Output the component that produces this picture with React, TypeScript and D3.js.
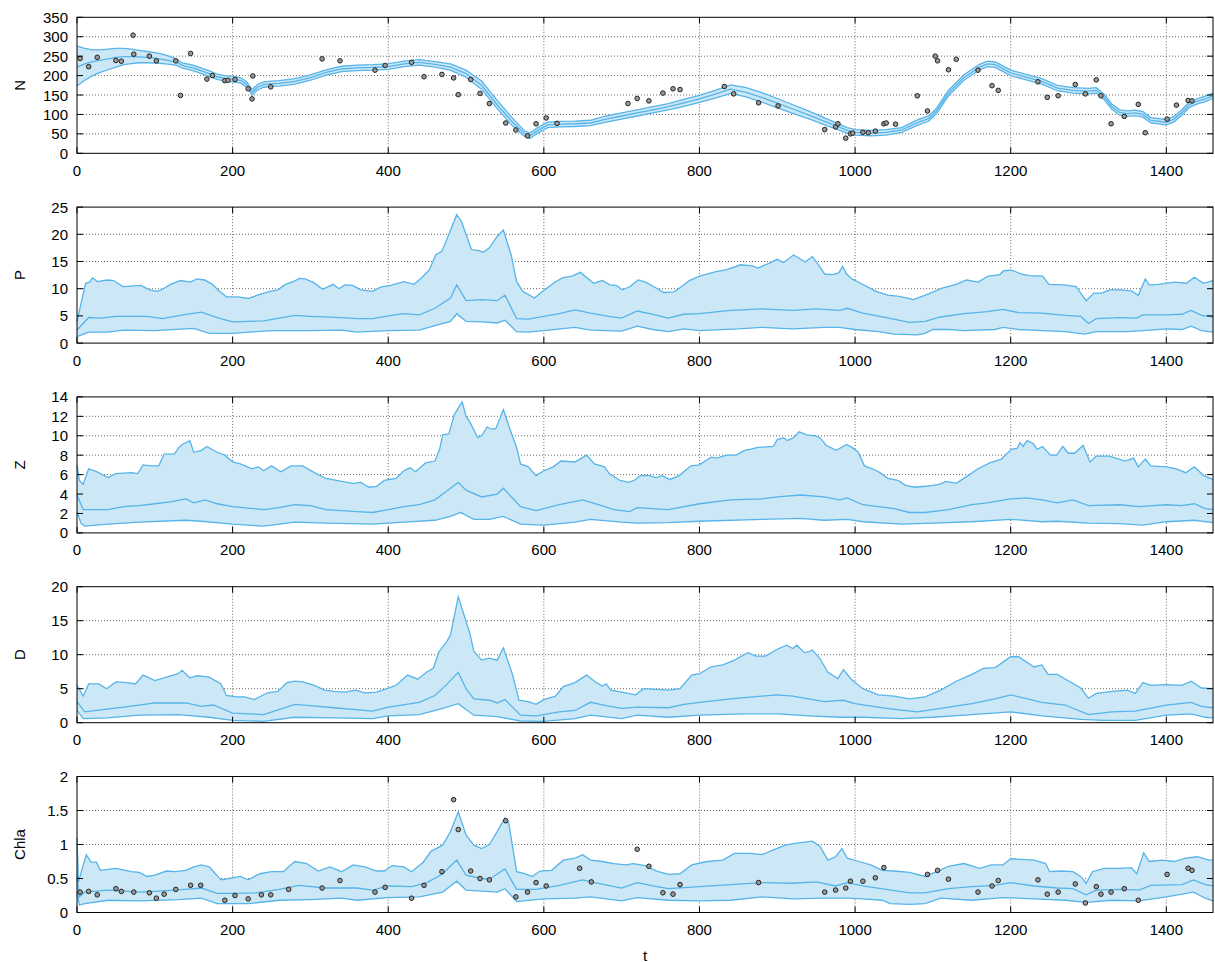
import React from 'react';
import * as d3 from 'd3';

type P = [number, number];

const tTicks = [0, 200, 400, 600, 800, 1000, 1200, 1400];
const tDomain: P = [0, 1460];

// ---------- N ----------
const nLower: P[] = [[0,173],[10,188],[20,200],[30,208],[40,215],[50,222],[60,228],[70,231],[80,233],[90,233],[100,232],[110,231],[120,229],[128,226],[135,220],[140,217],[150,212],[160,205],[170,198],[180,190],[190,186],[200,184],[210,181],[218,170],[225,150],[232,163],[240,170],[250,172],[260,173],[280,178],[300,188],[320,201],[340,210],[360,213],[380,214],[400,216],[420,223],[440,227],[460,222],[480,214],[500,196],[520,165],[540,115],[560,70],[575,44],[582,38],[592,52],[605,66],[620,68],[640,69],[660,71],[680,80],[700,88],[720,96],[740,104],[760,112],[780,121],[800,131],[820,142],[840,154],[860,145],[880,132],[900,117],[920,103],[940,89],[960,74],[975,63],[990,52],[1000,47],[1020,45],[1040,47],[1060,54],[1080,72],[1095,83],[1105,103],[1120,148],[1140,188],[1160,215],[1170,223],[1180,221],[1200,200],[1220,189],[1240,178],[1260,161],[1280,155],[1300,153],[1310,155],[1320,138],[1330,113],[1340,98],[1350,95],[1360,97],[1370,93],[1380,78],[1400,73],[1410,81],[1420,98],[1430,119],[1440,127],[1450,133],[1460,141]];
const nMedian: P[] = [[0,222],[10,230],[20,236],[30,240],[40,243],[50,247],[60,249],[70,249],[80,248],[90,247],[100,245],[110,242],[120,238],[128,234],[135,227],[140,224],[150,219],[160,212],[170,205],[180,197],[190,193],[200,191],[210,188],[218,177],[225,157],[232,170],[240,177],[250,179],[260,180],[280,185],[300,195],[320,208],[340,217],[360,220],[380,221],[400,223],[420,230],[440,234],[460,229],[480,222],[500,205],[520,175],[540,125],[560,80],[575,51],[582,45],[592,59],[605,73],[620,75],[640,76],[660,78],[680,88],[700,96],[720,104],[740,112],[760,120],[780,130],[800,140],[820,152],[840,165],[860,157],[880,144],[900,129],[920,114],[940,99],[960,83],[975,71],[990,59],[1000,54],[1020,52],[1040,54],[1060,60],[1080,79],[1095,90],[1105,110],[1120,155],[1140,195],[1160,222],[1170,230],[1180,228],[1200,207],[1220,196],[1240,185],[1260,168],[1280,162],[1300,160],[1310,162],[1320,145],[1330,120],[1340,105],[1350,102],[1360,104],[1370,100],[1380,85],[1400,80],[1410,88],[1420,105],[1430,126],[1440,134],[1450,140],[1460,148]];
const nUpper: P[] = [[0,276],[10,270],[20,266],[30,266],[40,268],[50,270],[60,270],[70,268],[80,265],[90,262],[100,259],[110,255],[120,249],[128,242],[135,233],[140,231],[150,226],[160,219],[170,212],[180,204],[190,200],[200,198],[210,195],[218,184],[225,164],[232,177],[240,184],[250,186],[260,187],[280,192],[300,202],[320,215],[340,224],[360,227],[380,228],[400,230],[420,237],[440,241],[460,236],[480,230],[500,214],[520,186],[540,136],[560,90],[575,58],[582,52],[592,66],[605,80],[620,82],[640,83],[660,85],[680,96],[700,104],[720,112],[740,120],[760,128],[780,139],[800,149],[820,162],[840,176],[860,169],[880,156],[900,141],[920,125],[940,109],[960,92],[975,79],[990,66],[1000,61],[1020,59],[1040,61],[1060,66],[1080,86],[1095,97],[1105,117],[1120,162],[1140,202],[1160,229],[1170,237],[1180,235],[1200,214],[1220,203],[1240,192],[1260,175],[1280,169],[1300,167],[1310,169],[1320,152],[1330,127],[1340,112],[1350,109],[1360,111],[1370,107],[1380,92],[1400,87],[1410,95],[1420,112],[1430,133],[1440,141],[1450,147],[1460,155]];
const nObs: P[] = [[4,244],[15,223],[26,247],[50,239],[57,237],[72,304],[73,255],[93,250],[102,238],[127,238],[133,149],[146,257],[167,191],[174,200],[190,187],[194,188],[203,190],[220,166],[225,140],[226,199],[249,171],[315,243],[338,238],[383,214],[396,226],[430,234],[446,197],[469,203],[484,194],[490,151],[506,190],[518,154],[530,128],[551,78],[564,60],[579,45],[590,76],[603,91],[617,77],[708,128],[720,141],[735,135],[753,155],[766,166],[775,164],[832,172],[844,153],[876,130],[901,122],[961,61],[975,68],[978,76],[988,39],[994,50],[997,52],[1010,54],[1017,53],[1026,57],[1037,76],[1040,78],[1052,75],[1080,148],[1093,109],[1103,250],[1106,238],[1120,215],[1130,242],[1158,214],[1176,174],[1184,162],[1235,184],[1247,144],[1261,148],[1283,177],[1296,153],[1310,189],[1316,148],[1329,76],[1346,95],[1364,126],[1373,53],[1401,88],[1413,124],[1428,136],[1433,135]];

// ---------- P ----------
const pUpper: P[] = [[0,4],[11,11],[16,11.2],[20,12],[26,11.3],[39,11.6],[47,11.5],[59,10.4],[82,10.6],[93,9.8],[103,9.5],[110,9.9],[120,10.8],[133,11.5],[146,11.2],[154,11.8],[164,11.6],[174,10.8],[181,9.8],[192,8.5],[207,8.5],[220,8.2],[232,8.8],[248,9.5],[258,9.8],[268,10.8],[278,11.3],[286,11.9],[293,11.8],[303,11.2],[316,9.9],[329,10.8],[337,10.0],[344,10.7],[354,10.6],[365,9.8],[380,9.5],[390,10.3],[403,10.6],[420,11.3],[433,10.8],[443,12],[453,13.5],[461,16.2],[469,16.9],[476,19.3],[488,23.6],[494,22.4],[507,17.2],[517,17.0],[522,16.7],[530,17.5],[540,19.6],[548,20.8],[558,16.2],[565,11.3],[573,9.5],[588,8.3],[598,9.5],[614,11.2],[624,12],[636,12.3],[647,13],[664,11],[675,11.5],[685,10.7],[693,10.6],[701,9.8],[711,10.4],[721,11.6],[731,11.2],[741,10.4],[754,9.3],[767,9.4],[774,10.1],[787,11.5],[800,12.3],[820,13.1],[835,13.5],[853,14.4],[868,14.2],[875,13.8],[890,14.7],[900,15.4],[908,14.8],[921,16.2],[936,14.9],[945,15.9],[953,14.4],[961,12.7],[971,12.6],[979,12.9],[984,14.1],[989,12.7],[996,11.8],[1007,11.0],[1027,9.5],[1042,8.8],[1057,8.6],[1075,8.0],[1092,8.9],[1112,10.1],[1130,10.8],[1143,11.6],[1158,11.2],[1171,12.3],[1186,12.6],[1191,13.3],[1201,13.4],[1214,12.7],[1224,12.4],[1241,12.3],[1249,10.8],[1269,10.7],[1284,10.4],[1297,7.8],[1307,9.2],[1317,9.2],[1327,9.8],[1340,9.8],[1355,9.6],[1364,8.8],[1373,11.8],[1378,10.7],[1390,10.8],[1411,11.2],[1426,11.0],[1436,12.1],[1448,11.0],[1460,11.5]];
const pMedian: P[] = [[0,2.4],[15,4.7],[30,4.6],[50,4.9],[90,4.9],[110,4.5],[140,5.3],[160,5.7],[180,4.7],[200,3.9],[240,4.1],[280,5.1],[300,4.9],[340,4.7],[360,4.5],[380,4.5],[400,5.0],[420,5.4],[440,5.2],[460,6.4],[480,8.3],[488,10.7],[500,7.8],[520,8.0],[540,7.8],[550,8.8],[565,4.5],[580,4.4],[600,4.9],[620,5.4],[640,6.1],[660,5.5],[683,4.9],[700,4.6],[720,5.9],[740,5.3],[760,4.6],[780,5.3],[800,5.4],[840,6.0],[880,6.3],[920,6.0],[950,6.3],[980,6.0],[990,6.4],[1010,5.5],[1040,4.7],[1070,3.8],[1090,4.0],[1110,4.8],[1140,5.4],[1170,5.8],[1190,6.2],[1210,5.6],[1240,5.5],[1270,5.1],[1290,4.9],[1300,3.6],[1310,4.5],[1340,4.7],[1362,4.6],[1370,5.2],[1400,5.2],[1420,5.3],[1432,6.0],[1445,5.1],[1460,4.8]];
const pLower: P[] = [[0,1.2],[15,2.0],[40,2.0],[60,2.4],[100,2.3],[150,2.7],[170,1.8],[200,1.8],[250,2.3],[300,2.3],[340,2.4],[360,2.0],[400,2.3],[440,2.4],[460,3.2],[480,4.0],[488,5.4],[500,4.0],[520,3.9],[540,3.7],[550,4.2],[565,2.1],[580,2.0],[600,2.3],[640,2.9],[660,2.4],[700,2.2],[720,3.1],[740,2.5],[760,2.1],[780,2.6],[800,2.3],[850,2.6],[880,2.9],[920,2.6],[960,2.9],[980,2.9],[1000,2.5],[1030,2.1],[1050,1.65],[1080,1.5],[1090,1.8],[1100,2.5],[1120,2.5],[1140,2.3],[1180,2.5],[1190,2.9],[1210,2.5],[1240,2.3],[1270,2.1],[1295,1.65],[1310,2.1],[1350,2.1],[1370,2.3],[1400,2.6],[1420,2.5],[1432,3.1],[1445,2.3],[1460,2.0]];

// ---------- Z ----------
const zUpper: P[] = [[0,7.0],[3,5.4],[8,5.0],[15,6.6],[25,6.3],[40,5.7],[50,6.1],[70,6.2],[78,6.1],[85,7.0],[95,6.9],[105,6.9],[112,8.1],[125,8.1],[130,8.7],[135,9.1],[145,9.5],[150,8.3],[160,8.5],[167,8.9],[180,8.3],[190,8.0],[200,7.3],[210,7.1],[225,6.6],[233,6.8],[240,6.4],[250,6.9],[262,6.3],[275,6.9],[290,6.9],[305,6.2],[320,5.6],[340,5.3],[355,5.1],[365,5.2],[375,4.7],[385,4.8],[395,5.4],[410,5.6],[420,6.4],[428,6.7],[435,6.3],[448,7.2],[460,7.4],[466,8.6],[470,10.1],[478,10.2],[485,12.2],[495,13.5],[500,12.0],[505,11.4],[515,9.8],[520,10.0],[527,10.9],[532,10.7],[538,10.7],[548,12.7],[555,11.0],[565,8.8],[570,7.1],[580,6.8],[590,5.9],[600,6.4],[612,6.8],[622,7.4],[640,7.3],[655,8.0],[665,7.1],[678,6.8],[684,6.1],[698,5.4],[709,5.2],[716,5.4],[724,5.9],[736,5.9],[744,5.7],[752,5.9],[762,5.5],[774,5.9],[789,6.9],[800,7.0],[815,7.8],[822,7.7],[835,8.0],[847,8.0],[858,8.5],[865,8.6],[875,8.8],[895,8.9],[900,9.6],[908,9.8],[913,9.5],[921,9.8],[928,10.4],[938,10.1],[948,10.0],[955,9.8],[963,9.0],[976,8.5],[989,9.1],[996,8.8],[1004,8.3],[1012,6.9],[1022,6.6],[1032,6.2],[1042,5.6],[1055,5.4],[1065,4.9],[1077,4.7],[1090,4.8],[1100,4.9],[1108,5.0],[1117,5.3],[1130,5.1],[1145,5.9],[1158,6.6],[1173,7.2],[1188,7.6],[1193,8.0],[1201,8.6],[1208,8.7],[1212,9.3],[1216,8.9],[1221,9.5],[1229,9.2],[1234,8.6],[1241,8.9],[1251,8.0],[1259,8.0],[1267,8.9],[1274,8.2],[1282,8.2],[1293,9.0],[1302,7.3],[1310,7.9],[1327,7.9],[1347,7.4],[1358,7.7],[1364,6.8],[1373,7.6],[1380,6.9],[1400,6.8],[1413,6.6],[1425,6.2],[1436,6.8],[1448,5.9],[1460,5.5]];
const zMedian: P[] = [[0,3.9],[8,2.4],[40,2.4],[60,2.7],[80,2.8],[100,3.0],[120,3.2],[140,3.5],[150,3.1],[165,3.4],[180,3.0],[200,2.7],[240,2.4],[260,2.6],[280,2.9],[300,2.8],[320,2.4],[360,2.2],[380,2.1],[400,2.4],[420,2.7],[440,2.9],[460,3.4],[470,4.0],[480,4.6],[490,5.2],[500,4.4],[520,3.7],[540,4.0],[548,4.6],[570,2.7],[590,2.3],[620,2.9],[650,3.4],[670,2.9],[690,2.4],[710,2.2],[720,2.6],[760,2.4],[800,3.0],[840,3.4],[880,3.5],[900,3.7],[930,3.9],[960,3.7],[980,3.4],[990,3.6],[1010,2.9],[1050,2.5],[1070,2.1],[1090,2.1],[1120,2.4],[1150,2.9],[1170,3.1],[1200,3.5],[1220,3.6],[1240,3.4],[1260,3.1],[1280,3.4],[1300,2.8],[1340,2.9],[1365,2.7],[1400,2.9],[1420,2.8],[1436,3.0],[1450,2.5],[1460,2.4]];
const zLower: P[] = [[0,2.2],[5,1.0],[10,0.7],[40,0.9],[80,1.1],[140,1.3],[160,1.2],[200,0.9],[240,0.7],[280,1.1],[320,1.0],[380,0.9],[420,1.1],[460,1.3],[480,1.7],[493,2.1],[510,1.4],[530,1.4],[548,1.7],[570,0.9],[600,0.8],[640,1.1],[660,1.4],[700,1.1],[720,1.0],[760,1.05],[800,1.2],[880,1.4],[930,1.5],[960,1.3],[990,1.4],[1010,1.15],[1060,0.9],[1100,1.0],[1150,1.15],[1200,1.4],[1240,1.15],[1260,1.2],[1300,1.0],[1340,0.95],[1370,0.8],[1400,1.15],[1436,1.3],[1460,1.05]];

// ---------- D ----------
const dUpper: P[] = [[0,5.5],[8,3.9],[15,5.7],[28,5.7],[38,5.0],[50,6.0],[65,5.9],[75,5.7],[85,7.0],[100,6.2],[115,6.7],[130,7.2],[135,7.7],[145,6.6],[155,6.9],[170,6.7],[185,5.7],[192,4.0],[205,3.8],[215,3.8],[228,3.4],[245,4.4],[258,4.6],[270,5.9],[280,6.1],[290,6.0],[305,5.5],[318,4.8],[330,4.6],[345,4.5],[358,4.8],[370,4.4],[385,4.5],[400,5.1],[410,5.5],[425,7.0],[438,6.4],[450,7.5],[458,8.0],[465,10.4],[475,11.9],[480,12.9],[490,18.5],[505,13.1],[510,10.5],[520,9.2],[530,9.5],[540,9.2],[548,11.0],[560,7.0],[568,3.3],[580,3.1],[590,2.7],[600,3.4],[615,3.9],[625,5.3],[640,5.9],[655,7.0],[665,6.1],[675,5.4],[680,5.7],[686,4.8],[700,4.5],[718,4.1],[728,5.0],[745,4.9],[760,4.8],[775,5.0],[790,7.0],[800,7.2],[815,8.2],[830,8.5],[845,9.2],[862,10.3],[873,9.8],[885,9.8],[900,10.8],[912,11.4],[920,10.9],[925,11.4],[935,10.3],[940,10.4],[945,10.7],[955,9.4],[965,7.4],[978,6.5],[985,7.8],[995,6.4],[1010,5.0],[1030,4.1],[1050,3.9],[1070,3.5],[1090,3.8],[1110,4.8],[1130,6.1],[1150,7.1],[1165,8.0],[1180,8.1],[1200,9.7],[1210,9.7],[1230,8.2],[1240,8.5],[1248,7.1],[1260,7.1],[1275,6.1],[1290,5.1],[1300,3.6],[1310,4.3],[1330,4.6],[1350,4.8],[1360,4.3],[1370,5.9],[1380,5.5],[1400,5.6],[1420,5.5],[1432,6.1],[1445,5.1],[1460,5.0]];
const dMedian: P[] = [[0,3.1],[10,1.6],[30,1.9],[60,2.3],[80,2.6],[100,2.9],[140,2.9],[160,2.4],[175,2.6],[200,1.4],[240,1.2],[280,2.7],[300,2.5],[330,2.2],[380,1.7],[400,2.3],[440,3.0],[460,4.0],[475,5.6],[490,7.4],[500,5.0],[510,3.5],[530,3.3],[540,2.9],[550,3.4],[570,1.1],[590,1.0],[620,1.6],[640,1.8],[660,3.0],[680,2.5],[700,2.1],[720,2.3],[760,2.2],[780,2.7],[800,3.0],[840,3.5],[880,3.9],[900,4.1],[920,3.9],[940,3.5],[960,3.1],[985,3.3],[1000,2.8],[1040,2.1],[1080,1.6],[1110,2.1],[1150,2.8],[1180,3.5],[1200,4.1],[1240,3.0],[1270,2.6],[1300,1.2],[1330,1.6],[1360,1.7],[1400,2.6],[1432,3.0],[1445,2.4],[1460,2.2]];
const dLower: P[] = [[0,1.8],[8,0.6],[40,0.7],[80,1.1],[130,1.2],[170,0.8],[200,0.35],[240,0.2],[280,0.8],[330,0.7],[380,0.6],[400,1.0],[440,1.2],[470,2.1],[490,2.8],[510,1.1],[540,0.9],[570,0.25],[600,0.2],[640,0.6],[660,1.1],[700,0.6],[720,1.1],[760,0.8],[800,1.1],[860,1.3],[900,1.3],[940,1.0],[980,0.8],[1010,0.8],[1060,0.6],[1100,0.8],[1150,1.2],[1200,1.6],[1240,1.0],[1290,0.5],[1320,0.35],[1360,0.35],[1400,1.1],[1432,1.3],[1450,0.8],[1460,0.7]];

// ---------- Chla ----------
const chlaUpper: P[] = [[0,1.1],[2,0.45],[8,0.70],[12,0.85],[18,0.74],[25,0.74],[30,0.62],[50,0.65],[70,0.60],[80,0.59],[90,0.53],[100,0.55],[115,0.61],[125,0.60],[140,0.62],[150,0.67],[160,0.70],[170,0.67],[185,0.48],[195,0.50],[210,0.53],[220,0.48],[235,0.57],[250,0.60],[265,0.60],[280,0.75],[295,0.72],[310,0.61],[325,0.67],[340,0.60],[355,0.70],[370,0.67],[385,0.61],[395,0.61],[405,0.69],[420,0.67],[430,0.60],[445,0.74],[455,0.90],[470,0.99],[480,1.19],[490,1.48],[500,1.14],[510,0.99],[520,0.94],[530,1.00],[540,1.19],[550,1.39],[555,1.31],[565,0.60],[575,0.57],[585,0.53],[595,0.61],[610,0.62],[625,0.77],[640,0.80],[650,0.85],[660,0.77],[675,0.75],[690,0.72],[705,0.70],[715,0.72],[730,0.69],[745,0.61],[760,0.56],[775,0.57],[790,0.70],[810,0.75],[830,0.77],[845,0.87],[865,0.87],[880,0.85],[895,0.92],[910,0.99],[925,1.02],[945,1.05],[955,0.97],[965,0.77],[975,0.82],[983,0.94],[990,0.80],[1005,0.75],[1020,0.70],[1035,0.62],[1050,0.61],[1070,0.59],[1090,0.53],[1105,0.60],[1120,0.68],[1140,0.72],[1160,0.65],[1175,0.70],[1190,0.70],[1200,0.79],[1230,0.77],[1245,0.72],[1250,0.60],[1265,0.61],[1280,0.60],[1290,0.53],[1297,0.43],[1305,0.60],[1320,0.65],[1340,0.65],[1355,0.66],[1362,0.57],[1371,0.88],[1378,0.75],[1395,0.77],[1410,0.75],[1425,0.80],[1440,0.82],[1455,0.77],[1460,0.77]];
const chlaMedian: P[] = [[0,0.53],[3,0.23],[10,0.30],[40,0.33],[80,0.30],[100,0.31],[140,0.34],[160,0.36],[180,0.28],[200,0.28],[230,0.29],[260,0.34],[285,0.40],[320,0.36],[360,0.36],[380,0.33],[400,0.39],[430,0.38],[450,0.44],[470,0.57],[488,0.77],[500,0.55],[520,0.50],[530,0.49],[550,0.64],[565,0.34],[590,0.34],[620,0.40],[650,0.48],[670,0.43],[700,0.36],[720,0.44],[740,0.39],[760,0.35],[800,0.38],[840,0.41],[880,0.44],[920,0.43],[950,0.45],[975,0.39],[990,0.44],[1010,0.39],[1040,0.34],[1070,0.29],[1090,0.29],[1120,0.35],[1150,0.38],[1180,0.40],[1200,0.44],[1230,0.39],[1260,0.36],[1280,0.35],[1297,0.26],[1310,0.33],[1340,0.34],[1365,0.33],[1380,0.40],[1420,0.41],[1435,0.48],[1450,0.41],[1460,0.39]];
const chlaLower: P[] = [[0,0.30],[3,0.11],[10,0.13],[40,0.18],[80,0.17],[130,0.19],[160,0.21],[180,0.13],[220,0.13],[260,0.18],[300,0.19],[340,0.21],[360,0.18],[400,0.22],[440,0.23],[470,0.30],[488,0.46],[500,0.33],[540,0.30],[550,0.35],[565,0.16],[600,0.20],[640,0.21],[660,0.23],[700,0.17],[720,0.22],[760,0.18],[800,0.17],[840,0.18],[880,0.23],[920,0.20],[960,0.21],[990,0.21],[1010,0.20],[1035,0.18],[1045,0.13],[1070,0.12],[1090,0.13],[1110,0.21],[1150,0.18],[1190,0.22],[1230,0.20],[1270,0.18],[1297,0.15],[1330,0.18],[1365,0.17],[1400,0.23],[1435,0.30],[1450,0.21],[1460,0.17]];
const chlaObs: P[] = [[4,0.30],[15,0.31],[26,0.26],[50,0.35],[57,0.31],[73,0.30],[93,0.29],[102,0.21],[112,0.27],[127,0.34],[146,0.40],[159,0.40],[190,0.18],[203,0.25],[220,0.20],[237,0.26],[249,0.26],[272,0.34],[315,0.36],[338,0.47],[383,0.30],[396,0.37],[430,0.21],[446,0.40],[469,0.60],[484,1.66],[490,1.22],[506,0.61],[518,0.50],[530,0.48],[551,1.35],[564,0.23],[579,0.30],[590,0.44],[603,0.39],[646,0.65],[661,0.45],[720,0.93],[735,0.68],[753,0.29],[766,0.27],[775,0.41],[876,0.44],[961,0.30],[975,0.33],[988,0.36],[994,0.46],[1010,0.46],[1026,0.51],[1037,0.66],[1093,0.56],[1106,0.62],[1120,0.49],[1158,0.30],[1176,0.39],[1184,0.47],[1235,0.48],[1247,0.27],[1261,0.30],[1283,0.42],[1296,0.14],[1310,0.38],[1316,0.27],[1329,0.30],[1346,0.35],[1364,0.18],[1401,0.56],[1428,0.65],[1433,0.62]];

const panelLabels = ['N', 'P', 'Z', 'D', 'Chla'];
const panelMax = [350, 25, 14, 20, 2];
const panelStep = [50, 5, 2, 5, 0.5];

const panels = [
  { upper: nUpper, median: nMedian, lower: nLower, obs: nObs },
  { upper: pUpper, median: pMedian, lower: pLower, obs: [] as P[] },
  { upper: zUpper, median: zMedian, lower: zLower, obs: [] as P[] },
  { upper: dUpper, median: dMedian, lower: dLower, obs: [] as P[] },
  { upper: chlaUpper, median: chlaMedian, lower: chlaLower, obs: chlaObs },
];

const W = 1215, H = 962;
const LEFT = 77, RIGHT = 1213;
const TOP0 = 17.3, PH = 136, GAP = 189.8;
const LINE = '#56B4E9';
const FILL = '#CCE7F6';
const FONT = '"Liberation Sans", Arial, Helvetica, sans-serif';

function Panel({ idx }: { idx: number }) {
  const top = TOP0 + idx * GAP;
  const bottom = top + PH;
  const x = d3.scaleLinear().domain(tDomain).range([LEFT, RIGHT]);
  const y = d3.scaleLinear().domain([0, panelMax[idx]]).range([bottom, top]);
  const yTicks = d3.range(0, panelMax[idx] + panelStep[idx] / 2, panelStep[idx]);
  const { upper, median, lower, obs } = panels[idx];
  const line = d3.line<P>().x(d => x(d[0])).y(d => y(d[1]));
  const bandD = (line(upper) || '') + (line([...lower].reverse()) || '').replace(/^M/, 'L') + 'Z';
  const tick = 6;
  return (
    <g>
      {/* grid */}
      {tTicks.filter(t => t > 0).map(t => (
        <line key={'gx' + t} x1={x(t)} x2={x(t)} y1={top} y2={bottom} stroke="#444" strokeWidth={0.8} strokeDasharray="1,2" />
      ))}
      {yTicks.filter(v => v > 0 && v < panelMax[idx]).map(v => (
        <line key={'gy' + v} x1={LEFT} x2={RIGHT} y1={y(v)} y2={y(v)} stroke="#444" strokeWidth={0.8} strokeDasharray="1,2" />
      ))}
      {/* band */}
      <path d={bandD} fill={FILL} stroke="none" />
      <path d={line(upper) || ''} fill="none" stroke={LINE} strokeWidth={1.3} />
      <path d={line(median) || ''} fill="none" stroke={LINE} strokeWidth={1.3} />
      <path d={line(lower) || ''} fill="none" stroke={LINE} strokeWidth={1.3} />
      {/* observations */}
      {obs.map((d, k) => (
        <circle key={'o' + k} cx={x(d[0])} cy={y(d[1])} r={2.3} fill="#9a9a9a" stroke="#222" strokeWidth={1} />
      ))}
      {/* border */}
      <rect x={LEFT} y={top} width={RIGHT - LEFT} height={PH} fill="none" stroke="#000" strokeWidth={1} />
      {/* ticks */}
      {tTicks.map(t => (
        <g key={'tx' + t}>
          <line x1={x(t)} x2={x(t)} y1={bottom} y2={bottom - tick} stroke="#000" />
          <line x1={x(t)} x2={x(t)} y1={top} y2={top + tick} stroke="#000" />
          <text x={x(t)} y={bottom + 17} textAnchor="middle" dominantBaseline="central" fontSize={15} fontFamily={FONT} fill="#000">{t}</text>
        </g>
      ))}
      {yTicks.map(v => (
        <g key={'ty' + v}>
          <line x1={LEFT} x2={LEFT + tick} y1={y(v)} y2={y(v)} stroke="#000" />
          <line x1={RIGHT} x2={RIGHT - tick} y1={y(v)} y2={y(v)} stroke="#000" />
          <text x={LEFT - 9} y={y(v)} textAnchor="end" dominantBaseline="central" fontSize={15} fontFamily={FONT} fill="#000">{String(v)}</text>
        </g>
      ))}
      <text transform={`translate(19,${(top + bottom) / 2}) rotate(-90)`} textAnchor="middle" dominantBaseline="central" fontSize={15} fontFamily={FONT} fill="#000">{panelLabels[idx]}</text>
    </g>
  );
}

export default function App() {
  return (
    <svg width={W} height={H} viewBox={`0 0 ${W} ${H}`} style={{ position: 'absolute', left: 0, top: 0, background: '#fff' }}>
      <rect x={0} y={0} width={W} height={H} fill="#fff" />
      {panels.map((_, i) => <Panel key={i} idx={i} />)}
      <text x={(LEFT + RIGHT) / 2} y={955} textAnchor="middle" dominantBaseline="central" fontSize={15} fontFamily={FONT} fill="#000">t</text>
    </svg>
  );
}
